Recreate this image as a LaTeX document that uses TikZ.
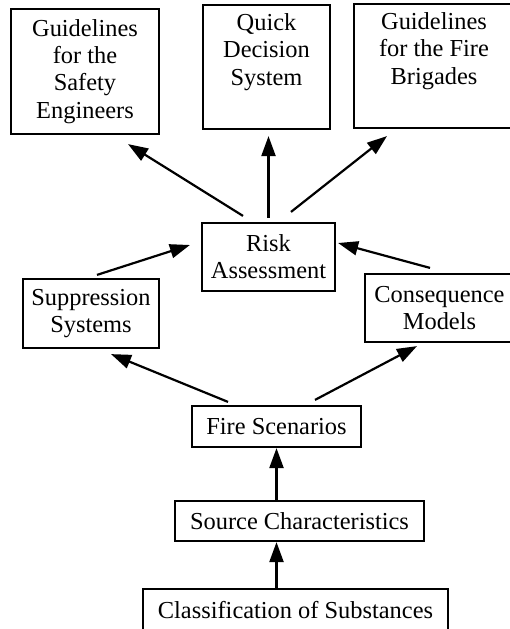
\documentclass[tikz,border=0pt]{standalone}
\usepackage{fontspec}
\setmainfont{Liberation Serif}
\usetikzlibrary{arrows.meta}

\begin{document}
\begin{tikzpicture}[x=1pt,y=-1pt,
    box/.style={draw,line width=2.2pt,inner sep=0pt,align=center,
        font=\fontsize{24.4pt}{27.3pt}\selectfont},
    arr/.style={line width=2.2pt,-{Triangle[length=20pt,width=14pt]}}]
\useasboundingbox (0,0) rectangle (510,629);

% Top row
\node[box,minimum width=148pt,minimum height=125pt] (guideSE) at (85,71.5) {Guidelines\\for the\\Safety\\Engineers};
\node[box,minimum width=127pt,minimum height=124pt] (quickDS) at (266.5,67) {Quick\\Decision\\System\\ \strut};
\node[box,minimum width=160pt,minimum height=124pt] (guideFB) at (434,66) {Guidelines\\for the Fire\\Brigades\\ \strut};

% Middle
\node[box,minimum width=133pt,minimum height=68pt] (riskA) at (268.5,257) {Risk\\Assessment};
\node[box,minimum width=136pt,minimum height=69pt] (suppS) at (91,313.5) {Suppression\\Systems};
\node[box,minimum width=149pt,minimum height=68pt] (consM) at (439.5,308) {Consequence\\Models};

% Bottom chain
\node[box,minimum width=169pt,minimum height=41pt] (fireS) at (276.5,426.5) {Fire Scenarios};
\node[box,minimum width=249pt,minimum height=40pt] (sourceC) at (299.5,521) {Source Characteristics};
\node[box,minimum width=305pt,minimum height=42pt] (classS) at (295.5,610) {Classification of Substances};

% Arrows
\draw[arr] ([xshift=-25.5pt,yshift=6pt]riskA.north) -- ([xshift=43pt,yshift=-9pt]guideSE.south);
\draw[arr] ([yshift=4pt]riskA.north) -- ([yshift=-6pt]riskA.north |- quickDS.south);
\draw[arr] ([xshift=22.5pt,yshift=10pt]riskA.north) -- ([xshift=-47pt,yshift=-7pt]guideFB.south);
\draw[arr] ([xshift=6pt,yshift=3pt]suppS.north) -- ([xshift=-11pt,yshift=12pt]riskA.west);
\draw[arr] ([xshift=-9.5pt,yshift=5pt]consM.north) -- ([xshift=2pt,yshift=14pt]riskA.east);
\draw[arr] ([xshift=-48.5pt,yshift=3pt]fireS.north) -- ([xshift=20pt,yshift=-5pt]suppS.south);
\draw[arr] ([xshift=38.5pt,yshift=5pt]fireS.north) -- ([xshift=-22.5pt,yshift=-3pt]consM.south);
\draw[arr] (fireS.south |- sourceC.north) -- (fireS.south);
\draw[arr] (fireS.south |- classS.north) -- (fireS.south |- sourceC.south);
\end{tikzpicture}
\end{document}
